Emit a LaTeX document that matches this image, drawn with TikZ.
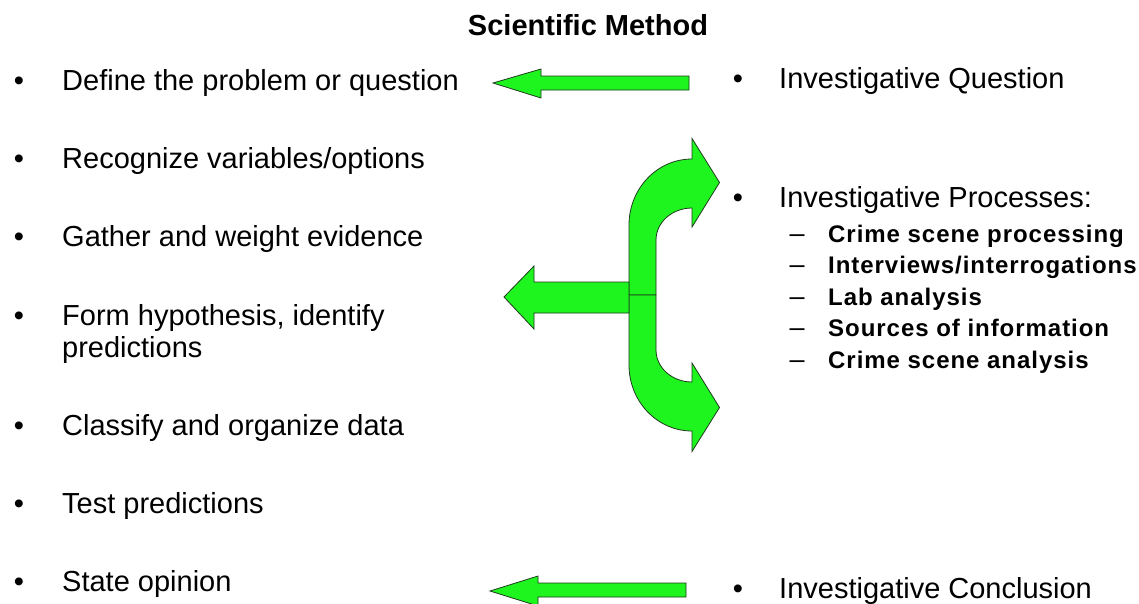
\documentclass[tikz,border=0pt]{standalone}
\usepackage{fontspec}
\setmainfont{Liberation Sans}
\newfontfamily\subfont[LetterSpace=4]{Liberation Sans}
\definecolor{arrowgreen}{RGB}{30,245,30}
\definecolor{outlinecol}{RGB}{30,60,30}
\begin{document}
\begin{tikzpicture}[x=1pt,y=-1pt,
  txt/.style={anchor=base west, inner sep=0pt, font=\fontsize{29}{32}\selectfont},
  bul/.style={anchor=base, inner sep=0pt, font=\fontsize{29}{32}\selectfont},
  sub/.style={anchor=base west, inner sep=0pt, font=\subfont\bfseries\fontsize{24}{28}\selectfont},
  dsh/.style={anchor=base, inner sep=0pt, font=\fontsize{27}{28}\selectfont},
  ttl/.style={anchor=base, inner sep=0pt, font=\bfseries\fontsize{29}{32}\selectfont},
  blockarrow/.style={fill=arrowgreen, draw=outlinecol, line width=0.8pt, line join=miter}]
\useasboundingbox (0,0) rectangle (1139,603);
\fill[white] (0,0) rectangle (1139,603);

% title
\node[ttl] (title) at (588,35) {Scientific Method};

% left column
\node[bul] (b1) at (19,90) {•};
\node[txt] (t1) at (62,90) {Define the problem or question};
\node[bul] (b2) at (19,168) {•};
\node[txt] (t2) at (62,168) {Recognize variables/options};
\node[bul] (b3) at (19,246) {•};
\node[txt] (t3) at (62,246) {Gather and weight evidence};
\node[bul] (b4) at (19,325) {•};
\node[txt] (t4) at (62,325) {Form hypothesis, identify};
\node[txt] (t4b) at (62,357) {predictions};
\node[bul] (b5) at (19,435) {•};
\node[txt] (t5) at (62,435) {Classify and organize data};
\node[bul] (b6) at (19,513) {•};
\node[txt] (t6) at (62,513) {Test predictions};
\node[bul] (b7) at (19,591) {•};
\node[txt] (t7) at (62,591) {State opinion};

% right column
\node[bul] (r1b) at (738,88) {•};
\node[txt] (r1) at (779,88) {Investigative Question};
\node[bul] (r2b) at (738,207) {•};
\node[txt] (r2) at (779,207) {Investigative Processes:};
\node[dsh] (d1) at (797,242) {–};
\node[sub] (s1) at (828,242) {Crime scene processing};
\node[dsh] (d2) at (797,273.5) {–};
\node[sub] (s2) at (828,273.5) {Interviews/interrogations};
\node[dsh] (d3) at (797,305) {–};
\node[sub] (s3) at (828,305) {Lab analysis};
\node[dsh] (d4) at (797,336.5) {–};
\node[sub] (s4) at (828,336.5) {Sources of information};
\node[dsh] (d5) at (797,368) {–};
\node[sub] (s5) at (828,368) {Crime scene analysis};
\node[bul] (r3b) at (738,598) {•};
\node[txt] (r3) at (779,598) {Investigative Conclusion};

% top straight arrow
\draw[blockarrow] (493,83) -- (541,69) -- (541,76) -- (689,76) -- (689,90)
  -- (541,90) -- (541,98) -- cycle;
% bottom straight arrow
\draw[blockarrow] (490,591) -- (538,576) -- (538,583) -- (686,583) -- (686,597)
  -- (538,597) -- (538,606) -- cycle;

% upper curved arrow
\draw[blockarrow] (629,295) -- (629,225)
  .. controls (629,188.5) and (657.2,159) .. (692,159)
  -- (692,138.5) -- (719.5,182.5) -- (692,227) -- (692,208)
  .. controls (672.1,208) and (656,222.3) .. (656,240)
  -- (656,295) -- cycle;
% lower curved arrow
\draw[blockarrow] (629,295) -- (629,365)
  .. controls (629,401.5) and (657.2,431) .. (692,431)
  -- (692,451.5) -- (719.5,407.5) -- (692,363) -- (692,382)
  .. controls (672.1,382) and (656,367.7) .. (656,350)
  -- (656,295) -- cycle;
% left arrow
\draw[blockarrow] (504,297) -- (534,266) -- (534,282) -- (629,282) -- (629,313)
  -- (534,313) -- (534,329) -- cycle;
\end{tikzpicture}
\end{document}
